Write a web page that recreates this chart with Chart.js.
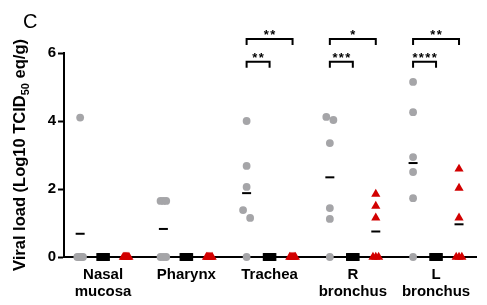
<!DOCTYPE html>
<html>
<head>
<meta charset="utf-8">
<script src="https://cdn.jsdelivr.net/npm/chart.js@4"></script>
<style>
  html, body { margin: 0; padding: 0; background: #fff; }
  #wrap { width: 487px; height: 305px; position: relative; }
</style>
</head>
<body>
<div id="wrap"><canvas id="chart"></canvas></div>
<script>
// categories (multi-line labels)
const categories = [["Nasal", "mucosa"], ["Pharynx"], ["Trachea"], ["R", "bronchus"], ["L", "bronchus"]];

// one array per category, six animals each
const greyValues = [
  [4.1, 0, 0, 0, 0, 0],
  [1.65, 1.65, 1.65, 0, 0, 0],
  [4.0, 2.68, 2.06, 1.38, 1.15, 0],
  [4.12, 4.03, 3.35, 1.44, 1.12, 0],
  [5.15, 4.26, 2.94, 2.5, 1.73, 0]
];
const blackValues = [
  [0, 0, 0, 0, 0, 0],
  [0, 0, 0, 0, 0, 0],
  [0, 0, 0, 0, 0, 0],
  [0, 0, 0, 0, 0, 0],
  [0, 0, 0, 0, 0, 0]
];
const redValues = [
  [0, 0, 0, 0, 0, 0],
  [0, 0, 0, 0, 0, 0],
  [0, 0, 0, 0, 0, 0],
  [1.85, 1.5, 1.15, 0, 0, 0],
  [2.59, 2.03, 1.15, 0, 0, 0]
];
const yTicks = [0, 2, 4, 6];

// significance brackets: category, group from/to, y level, label
const sigBrackets = [
  { cat: 2, from: 0, to: 2, y: 6.41, label: "**" },
  { cat: 2, from: 0, to: 1, y: 5.74, label: "**" },
  { cat: 3, from: 0, to: 2, y: 6.41, label: "*" },
  { cat: 3, from: 0, to: 1, y: 5.74, label: "***" },
  { cat: 4, from: 0, to: 2, y: 6.41, label: "**" },
  { cat: 4, from: 0, to: 1, y: 5.74, label: "****" }
];

const FONT = "'Liberation Sans', Arial, sans-serif";
const GREY = "#a5a5a8";
const RED = "#d20000";
const groupOffset = 0.276;   // x units between groups in a category
const spread = 0.068;        // horizontal spread of overlapping points

// simple column scatter: spread points whose values are close
function scatterPoints(values, group) {
  const pts = [];
  values.forEach((vals, cat) => {
    const sorted = [...vals].sort((a, b) => b - a);
    const clusters = [];
    sorted.forEach(v => {
      const last = clusters[clusters.length - 1];
      if (last && Math.abs(last[last.length - 1] - v) < 0.3) last.push(v);
      else clusters.push([v]);
    });
    const cx = cat + (group - 1) * groupOffset;
    clusters.forEach(c => {
      const w = c.length === 2 ? 0.085 : spread;
      c.forEach((v, i) => {
        const dx = c.length > 1 ? (i / (c.length - 1) - 0.5) * w : 0;
        pts.push({ x: cx + dx, y: v });
      });
    });
  });
  return pts;
}

function meanPoints(values, group) {
  return values.map((vals, cat) => ({
    x: cat + (group - 1) * groupOffset,
    y: vals.reduce((s, v) => s + v, 0) / vals.length
  }));
}

const groups = [
  { values: greyValues, color: GREY, style: "circle", radius: 3.9 },
  { values: blackValues, color: "#000", style: "rect", radius: 5.6 },
  { values: redValues, color: RED, style: "triangle", radius: 5.3 }
];

const datasets = [];
groups.forEach((g, i) => {
  datasets.push({
    data: scatterPoints(g.values, i),
    pointStyle: g.style,
    pointRadius: g.radius,
    pointBackgroundColor: g.color,
    pointBorderWidth: 0,
    pointBorderColor: g.color,
    clip: false,
    order: 1
  });
  datasets.push({
    data: meanPoints(g.values, i),
    pointStyle: "line",
    pointRadius: 4.5,
    pointBorderWidth: 2,
    pointBorderColor: "#000",
    clip: false,
    order: 2
  });
});

const extrasPlugin = {
  id: "extras",
  afterDraw(chart) {
    const ctx = chart.ctx;
    const xs = chart.scales.x, ys = chart.scales.y;
    ctx.save();
    // panel letter
    ctx.fillStyle = "#000";
    ctx.font = "20px " + FONT;
    ctx.textBaseline = "alphabetic";
    ctx.textAlign = "left";
    ctx.fillText("C", 23, 28);

    // y axis title with subscript
    const parts = [
      { t: "Viral load (Log10 TCID", f: "bold 16.5px " + FONT, dy: 0 },
      { t: "50", f: "bold 11px " + FONT, dy: 4 },
      { t: " eq/g)", f: "bold 16.5px " + FONT, dy: 0 }
    ];
    let total = 0;
    parts.forEach(p => { ctx.font = p.f; p.w = ctx.measureText(p.t).width; total += p.w; });
    ctx.translate(25, (chart.chartArea.top + chart.chartArea.bottom) / 2);
    ctx.rotate(-Math.PI / 2);
    let x = -total / 2;
    parts.forEach(p => {
      ctx.font = p.f;
      ctx.fillText(p.t, x, p.dy);
      x += p.w;
    });
    ctx.setTransform(1, 0, 0, 1, 0, 0);

    // significance brackets
    ctx.strokeStyle = "#000";
    ctx.lineWidth = 2;
    ctx.font = "bold 13px " + FONT;
    ctx.textAlign = "center";
    sigBrackets.forEach(b => {
      const x1 = xs.getPixelForValue(b.cat + (b.from - 1) * groupOffset);
      const x2 = xs.getPixelForValue(b.cat + (b.to - 1) * groupOffset);
      const y = ys.getPixelForValue(b.y);
      ctx.beginPath();
      ctx.moveTo(x1, y + 6);
      ctx.lineTo(x1, y);
      ctx.lineTo(x2, y);
      ctx.lineTo(x2, y + 6);
      ctx.stroke();
      const n = b.label.length, step = 6.4;
      const mid = (x1 + x2) / 2;
      for (let k = 0; k < n; k++) {
        ctx.fillText("*", mid + (k - (n - 1) / 2) * step, y);
      }
    });
    ctx.restore();
  }
};

new Chart(document.getElementById("chart"), {
  type: "scatter",
  data: { datasets },
  options: {
    responsive: true,
    maintainAspectRatio: false,
    animation: false,
    events: [],
    layout: { padding: { left: 34, top: 53, right: 11, bottom: 0 } },
    plugins: { legend: { display: false }, tooltip: { enabled: false } },
    scales: {
      x: {
        type: "linear",
        min: -0.47,
        max: 4.48,
        grid: { display: false, drawTicks: false },
        border: { color: "#000", width: 2 },
        afterBuildTicks: axis => { axis.ticks = categories.map((c, i) => ({ value: i })); },
        afterFit: axis => { axis.height = 48; },
        ticks: {
          color: "#000",
          padding: 9,
          maxRotation: 0,
          autoSkip: false,
          font: { family: FONT, size: 15, weight: "bold", lineHeight: 1.15 },
          callback: v => categories[v]
        }
      },
      y: {
        min: 0,
        max: 6,
        afterBuildTicks: axis => { axis.ticks = yTicks.map(v => ({ value: v })); },
        afterFit: axis => { axis.width = 30; },
        grid: { drawOnChartArea: false, tickLength: 6, tickWidth: 2, tickColor: "#000" },
        border: { color: "#000", width: 2 },
        ticks: {
          color: "#000",
          padding: 2,
          font: { family: FONT, size: 15, weight: "bold" }
        }
      }
    }
  },
  plugins: [extrasPlugin]
});
</script>
</body>
</html>
